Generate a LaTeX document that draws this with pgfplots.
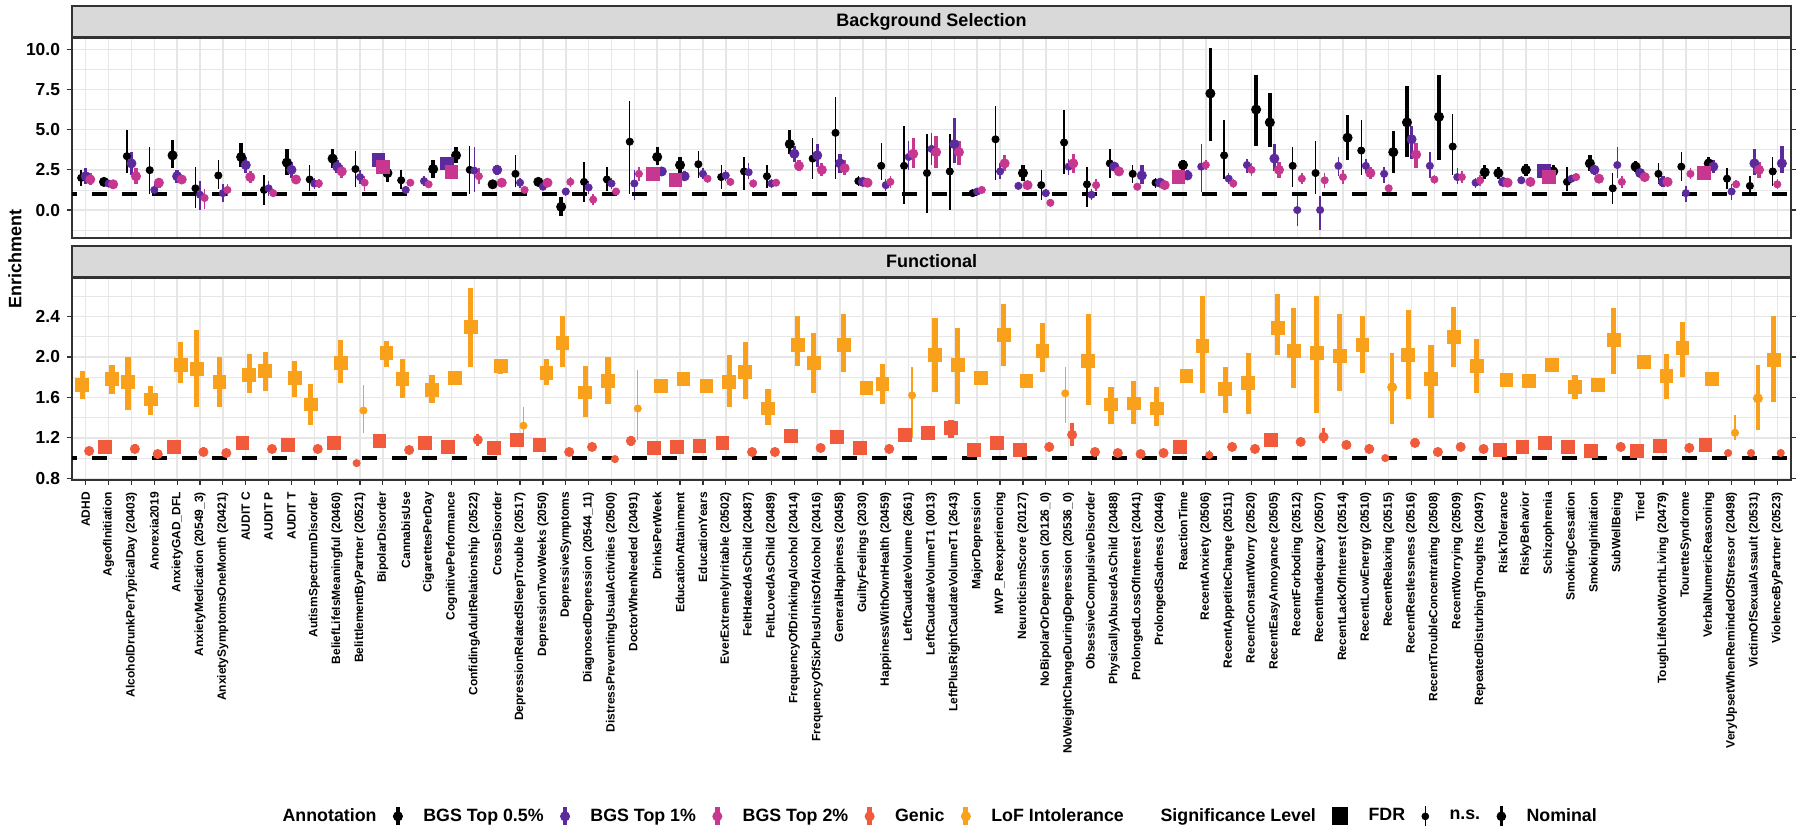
\documentclass[border=0pt]{standalone}
\usepackage{pgfplots}
\pgfplotsset{compat=1.18}
\usepackage{pgfplotstable}
\usepackage{fontspec}
\setmainfont{Liberation Sans}
\definecolor{cB}{HTML}{000000}
\definecolor{cP}{HTML}{5C2A9D}
\definecolor{cK}{HTML}{C7378F}
\definecolor{cG}{HTML}{F15A3B}
\definecolor{cL}{HTML}{F9A11B}
\definecolor{gridc}{HTML}{E6E6E6}
\definecolor{stripc}{HTML}{D9D9D9}
\definecolor{framec}{HTML}{333333}

% top panel: BGS Top 0.5% (black)
\pgfplotstableread{
x y lo hi s
0.8 2.0 1.5 2.5 0
1.8 1.75 1.5 2.0 1
2.8 3.35 2.3 5.0 0
3.8 2.48 1.0 3.9 0
4.8 3.4 2.6 4.35 1
5.8 1.35 0.1 2.7 0
6.8 2.15 1.3 3.1 0
7.8 3.3 2.7 4.2 1
8.8 1.25 0.3 2.2 0
9.8 2.95 2.2 3.8 1
10.8 1.9 1.2 2.8 0
11.8 3.2 2.6 3.8 1
12.8 2.55 1.45 3.7 0
14.2 2.3 1.75 2.9 1
14.8 1.85 1.3 2.5 0
16.2 2.55 2.0 3.1 1
17.2 3.4 2.9 3.9 1
17.8 2.5 1.0 4.0 0
18.8 1.6 1.35 1.85 1
19.8 2.25 1.45 3.4 0
20.8 1.75 1.5 2.0 1
21.8 0.2 -0.4 0.8 1
22.8 1.75 0.5 3.0 0
23.8 1.9 1.2 2.7 0
24.8 4.25 1.0 6.8 0
26.0 3.3 2.8 3.9 1
27.0 2.8 2.3 3.3 1
27.8 2.85 2.0 3.7 0
28.8 2.05 1.3 2.8 0
29.8 2.4 1.25 3.3 0
30.8 2.1 1.4 2.8 0
31.8 4.1 3.5 4.95 1
32.8 3.2 1.9 4.5 0
33.8 4.8 1.9 7.0 0
34.8 1.8 1.5 2.1 0
35.8 2.75 1.85 4.2 0
36.8 2.75 0.4 5.2 0
37.8 2.3 -0.2 4.75 0
38.8 2.4 0.0 4.75 0
39.8 1.05 0.9 1.2 0
40.8 4.4 1.85 6.5 0
42.0 2.3 1.8 2.8 1
42.8 1.55 0.6 2.5 0
43.8 4.2 2.25 6.2 0
44.8 1.6 0.2 2.7 0
45.8 2.9 2.0 3.8 0
46.8 2.25 1.7 2.8 0
47.8 1.7 1.4 2.0 0
49.0 2.8 2.4 3.1 1
50.2 7.25 4.3 10.1 1
50.8 3.4 1.9 5.6 0
52.2 6.25 4.0 8.4 1
52.8 5.45 3.9 7.3 1
53.8 2.75 1.45 3.9 0
54.8 2.3 1.0 4.3 0
56.2 4.5 3.1 5.9 1
56.8 3.7 2.2 5.6 0
58.2 3.6 2.3 4.9 1
58.8 5.45 3.3 7.7 1
60.2 5.8 3.1 8.4 1
60.8 3.95 2.2 6.0 0
62.2 2.35 1.9 2.8 1
62.8 2.3 1.9 2.7 1
64.0 2.5 2.1 2.85 1
65.2 2.4 2.0 2.8 1
65.8 1.75 1.2 2.7 0
66.8 2.9 2.4 3.4 1
67.8 1.35 0.4 2.3 0
68.8 2.7 2.35 3.05 1
69.8 2.25 1.6 2.9 0
70.8 2.7 1.8 3.6 0
72.0 2.9 2.5 3.3 1
72.8 1.95 1.3 2.6 0
73.8 1.5 0.9 2.1 0
74.8 2.4 1.5 3.3 0
}\tB

% BGS Top 1% (purple)
\pgfplotstableread{
x y lo hi s
1.0 2.1 1.6 2.6 1
2.0 1.65 1.45 1.85 0
3.0 2.9 2.2 3.6 1
4.0 1.25 0.9 1.6 0
5.0 2.1 1.7 2.5 1
6.0 0.95 0.0 1.8 0
7.0 1.05 0.5 1.6 0
8.0 2.8 2.3 3.3 1
9.0 1.35 0.9 1.8 0
10.0 2.5 2.0 3.0 1
11.0 1.65 1.3 2.0 0
12.0 2.7 2.3 3.1 1
13.0 2.05 1.6 2.5 0
13.8 3.1 2.8 3.4 2
15.0 1.25 1.0 1.5 0
15.8 1.8 1.5 2.1 0
16.8 2.9 2.6 3.2 2
18.0 2.45 1.1 3.9 0
19.0 2.5 2.2 2.8 1
20.0 1.7 1.4 2.0 0
21.0 1.45 1.25 1.65 0
22.0 1.15 0.9 1.4 0
23.0 1.4 1.0 1.8 0
24.0 1.65 1.3 2.0 0
25.0 1.65 0.6 2.5 0
26.2 2.4 2.1 2.7 1
27.2 2.1 1.8 2.4 1
28.0 2.25 1.9 2.6 0
29.0 2.15 1.8 2.5 0
30.0 2.35 1.9 2.9 0
31.0 1.65 1.4 1.9 0
32.0 3.5 3.0 4.0 1
33.0 3.4 2.7 4.1 1
34.0 2.9 2.3 3.5 1
35.0 1.75 1.55 1.95 1
36.0 1.55 1.2 1.9 0
37.0 3.3 2.5 4.3 0
38.0 3.8 2.8 4.8 0
39.0 4.1 2.9 5.7 1
40.0 1.15 1.0 1.3 0
41.0 2.4 1.9 2.9 0
41.8 1.5 1.3 1.7 0
43.0 1.05 0.8 1.3 0
44.0 2.7 2.2 3.2 0
45.0 0.95 0.6 1.3 0
46.0 2.7 2.4 3.0 1
47.2 2.15 1.6 2.8 1
48.0 1.7 1.5 1.9 1
49.2 2.15 1.9 2.5 1
49.8 2.7 1.15 4.1 0
51.0 1.95 1.6 2.3 0
51.8 2.8 2.3 3.2 0
53.0 3.2 2.4 4.1 1
54.0 0.0 -1.0 1.0 0
55.0 0.0 -1.25 0.9 0
55.8 2.75 2.1 3.3 0
57.0 2.75 2.3 3.2 0
57.8 2.25 1.7 2.7 0
59.0 4.4 3.2 5.2 1
59.8 2.75 2.0 3.6 0
61.0 2.05 1.6 2.6 0
61.8 1.7 1.4 2.0 0
63.0 1.75 1.5 2.0 1
63.8 1.85 1.6 2.1 0
64.8 2.45 2.2 2.7 2
66.0 1.95 1.7 2.2 0
67.0 2.5 2.2 2.8 1
68.0 2.8 2.0 3.9 0
69.0 2.3 2.05 2.55 1
70.0 1.75 1.45 2.1 1
71.0 1.05 0.5 1.5 0
72.2 2.7 2.3 3.1 1
73.0 1.15 0.6 1.6 0
74.0 2.9 2.2 3.8 1
75.2 2.9 2.3 4.0 1
}\tP

% BGS Top 2% (pink)
\pgfplotstableread{
x y lo hi s
1.2 1.9 1.55 2.3 1
2.2 1.6 1.45 1.75 1
3.2 2.1 1.6 2.6 1
4.2 1.7 1.4 2.0 1
5.2 1.9 1.6 2.2 1
6.2 0.75 0.05 1.3 0
7.2 1.25 0.9 1.6 0
8.2 2.05 1.7 2.4 1
9.2 1.05 0.8 1.3 0
10.2 1.9 1.6 2.2 1
11.2 1.65 1.4 1.9 0
12.2 2.4 2.0 2.8 1
13.2 1.7 1.2 2.1 0
14.0 2.7 2.45 2.95 2
15.2 1.7 1.5 1.9 0
16.0 1.6 1.4 1.8 0
17.0 2.35 2.1 2.6 2
18.2 2.1 1.6 2.6 0
19.2 1.7 1.5 1.9 1
20.2 1.25 1.0 1.5 0
21.2 1.7 1.45 1.95 1
22.2 1.75 1.45 2.05 0
23.2 0.65 0.3 1.0 0
24.2 1.15 0.9 1.4 0
25.2 2.25 1.8 2.7 0
25.8 2.25 1.95 2.55 2
26.8 1.85 1.6 2.1 2
28.2 1.95 1.7 2.2 0
29.2 1.75 1.5 2.0 0
30.2 1.65 1.4 1.9 0
31.2 1.7 1.5 1.9 0
32.2 2.75 2.4 3.1 1
33.2 2.5 2.1 2.9 1
34.2 2.6 2.2 3.1 1
35.2 1.7 1.5 1.9 1
36.2 1.75 1.4 2.1 0
37.2 3.5 2.6 4.5 1
38.2 3.6 2.6 4.6 1
39.2 3.6 2.8 4.3 1
40.2 1.25 1.1 1.4 0
41.2 2.9 2.4 3.4 1
42.2 1.55 1.4 1.7 1
43.2 0.45 0.2 0.7 0
44.2 2.9 2.3 3.5 1
45.2 1.55 1.2 1.9 0
46.2 2.4 2.15 2.65 1
47.0 1.45 1.2 1.7 0
48.2 1.55 1.35 1.75 1
48.8 2.05 1.8 2.3 2
50.0 2.8 2.5 3.1 0
51.2 1.65 1.4 1.9 0
52.0 2.5 2.1 2.9 0
53.2 2.5 2.0 3.0 1
54.2 1.95 1.6 2.3 0
55.2 1.85 1.4 2.3 0
56.0 2.05 1.6 2.5 0
57.2 2.3 1.9 2.7 1
58.0 1.35 1.1 1.6 0
59.2 3.45 2.6 4.2 1
60.0 1.9 1.6 2.2 0
61.2 2.05 1.7 2.4 0
62.0 1.85 1.5 2.2 0
63.2 1.7 1.5 1.9 1
64.2 1.75 1.55 1.95 1
65.0 2.05 1.85 2.25 2
66.2 2.05 1.8 2.3 0
67.2 1.95 1.75 2.15 1
68.2 1.75 1.4 2.1 0
69.2 2.05 1.8 2.3 1
70.2 1.75 1.5 2.0 1
71.2 2.25 1.9 2.6 0
71.8 2.3 2.05 2.55 2
73.2 1.6 1.35 1.85 0
74.2 2.5 2.0 3.0 1
75.0 1.6 1.3 1.9 0
}\tK

% bottom panel: Genic
\pgfplotstableread{
x y lo hi s
1.15 1.07 1.04 1.11 1
1.85 1.11 1.05 1.18 2
3.15 1.09 1.05 1.14 1
4.15 1.04 1.01 1.07 1
4.85 1.11 1.05 1.18 2
6.15 1.06 1.02 1.11 1
7.15 1.05 1.01 1.08 1
7.85 1.15 1.09 1.21 2
9.15 1.09 1.05 1.13 1
9.85 1.13 1.07 1.19 2
11.15 1.09 1.05 1.13 1
11.85 1.15 1.10 1.20 2
12.85 0.95 0.92 0.99 0
13.85 1.17 1.12 1.22 2
15.15 1.08 1.05 1.11 1
15.85 1.15 1.09 1.20 2
16.85 1.11 1.06 1.16 2
18.15 1.18 1.12 1.24 1
18.85 1.10 1.05 1.16 2
19.85 1.18 1.12 1.23 2
20.85 1.13 1.08 1.18 2
22.15 1.06 1.03 1.09 1
23.15 1.11 1.07 1.14 1
24.15 0.99 0.96 1.02 0
24.85 1.17 1.12 1.22 1
25.85 1.10 1.04 1.16 2
26.85 1.11 1.05 1.17 2
27.85 1.12 1.06 1.18 2
28.85 1.15 1.09 1.21 2
30.15 1.06 1.03 1.09 1
31.15 1.06 1.03 1.09 1
31.85 1.22 1.15 1.29 2
33.15 1.10 1.06 1.14 1
33.85 1.21 1.15 1.27 2
34.85 1.10 1.04 1.16 2
36.15 1.09 1.06 1.12 1
36.85 1.23 1.17 1.30 2
37.85 1.25 1.18 1.31 2
38.85 1.30 1.20 1.38 2
39.85 1.08 1.03 1.13 2
40.85 1.15 1.09 1.21 2
41.85 1.08 1.03 1.13 2
43.15 1.11 1.07 1.15 1
44.15 1.23 1.12 1.35 1
45.15 1.06 1.03 1.09 1
46.15 1.05 1.02 1.08 1
47.15 1.04 1.01 1.07 1
48.15 1.05 1.02 1.08 1
48.85 1.11 1.05 1.17 2
50.15 1.03 0.98 1.08 0
51.15 1.11 1.07 1.15 1
52.15 1.09 1.06 1.13 1
52.85 1.18 1.12 1.24 2
54.15 1.16 1.12 1.20 1
55.15 1.21 1.15 1.30 1
56.15 1.13 1.10 1.17 1
57.15 1.09 1.06 1.12 1
57.85 1.00 0.97 1.04 0
59.15 1.15 1.11 1.20 1
60.15 1.06 1.02 1.10 1
61.15 1.11 1.08 1.14 1
62.15 1.09 1.06 1.12 1
62.85 1.08 1.02 1.14 2
63.85 1.11 1.05 1.17 2
64.85 1.15 1.09 1.21 2
65.85 1.11 1.05 1.17 2
66.85 1.07 1.01 1.13 2
68.15 1.11 1.08 1.14 1
68.85 1.07 1.01 1.13 2
69.85 1.12 1.06 1.18 2
71.15 1.10 1.07 1.13 1
71.85 1.13 1.07 1.19 2
72.85 1.05 1.02 1.08 0
73.85 1.05 1.02 1.08 0
75.15 1.05 1.02 1.09 0
}\tG

% LoF Intolerance
\pgfplotstableread{
x y lo hi s
0.85 1.72 1.58 1.86 2
2.15 1.78 1.63 1.92 2
2.85 1.75 1.48 2.00 2
3.85 1.58 1.43 1.71 2
5.15 1.92 1.74 2.15 2
5.85 1.88 1.50 2.27 2
6.85 1.75 1.50 2.00 2
8.15 1.82 1.64 2.03 2
8.85 1.86 1.66 2.05 2
10.15 1.79 1.60 1.96 2
10.85 1.53 1.33 1.73 2
12.15 1.94 1.74 2.17 2
13.15 1.47 1.25 1.72 0
14.15 2.04 1.90 2.16 2
14.85 1.78 1.59 1.98 2
16.15 1.67 1.54 1.82 2
17.15 1.79 1.72 1.86 2
17.85 2.30 1.90 2.68 2
19.15 1.91 1.83 1.98 2
20.15 1.32 1.20 1.50 0
21.15 1.84 1.72 1.98 2
21.85 2.14 1.90 2.40 2
22.85 1.65 1.41 1.91 2
23.85 1.76 1.53 2.00 2
25.15 1.49 1.18 1.87 0
26.15 1.71 1.64 1.78 2
27.15 1.78 1.71 1.85 2
28.15 1.71 1.64 1.78 2
29.15 1.75 1.50 2.02 2
29.85 1.85 1.58 2.15 2
30.85 1.49 1.33 1.68 2
32.15 2.12 1.91 2.40 2
32.85 1.94 1.64 2.24 2
34.15 2.12 1.85 2.42 2
35.15 1.69 1.62 1.76 2
35.85 1.73 1.53 1.93 2
37.15 1.62 1.20 1.90 0
38.15 2.02 1.65 2.38 2
39.15 1.92 1.53 2.29 2
40.15 1.79 1.72 1.86 2
41.15 2.22 1.91 2.52 2
42.15 1.76 1.69 1.83 2
42.85 2.06 1.85 2.34 2
43.85 1.64 1.35 1.90 0
44.85 1.96 1.52 2.42 2
45.85 1.53 1.34 1.70 2
46.85 1.54 1.34 1.76 2
47.85 1.49 1.32 1.70 2
49.15 1.81 1.74 1.88 2
49.85 2.11 1.64 2.60 2
50.85 1.68 1.45 1.90 2
51.85 1.74 1.44 2.04 2
53.15 2.29 2.02 2.62 2
53.85 2.06 1.69 2.48 2
54.85 2.04 1.45 2.60 2
55.85 2.01 1.66 2.42 2
56.85 2.12 1.84 2.40 2
58.15 1.70 1.34 2.04 1
58.85 2.02 1.58 2.46 2
59.85 1.78 1.40 2.12 2
60.85 2.20 1.90 2.49 2
61.85 1.91 1.64 2.18 2
63.15 1.77 1.70 1.84 2
64.15 1.76 1.69 1.83 2
65.15 1.92 1.85 1.99 2
66.15 1.70 1.58 1.82 2
67.15 1.72 1.65 1.79 2
67.85 2.17 1.83 2.48 2
69.15 1.95 1.88 2.02 2
70.15 1.81 1.58 2.03 2
70.85 2.09 1.80 2.35 2
72.15 1.78 1.71 1.85 2
73.15 1.25 1.18 1.43 0
74.15 1.59 1.28 1.92 1
74.85 1.97 1.55 2.40 2
}\tL

\newcommand{\sigplot}[5]{%
  \addplot[#1, forget plot, only marks, #4,
    restrict expr to domain={\thisrow{s}}{#3},
    error bars/.cd, y dir=both, y explicit, error mark=none,
    error bar style={line width=#5, solid}]
  table[x=x, y=y, y error plus expr=\thisrow{hi}-\thisrow{y},
        y error minus expr=\thisrow{y}-\thisrow{lo}] {#2};
}
\newcommand{\allsig}[2]{%
  \sigplot{#1}{#2}{-0.5:0.5}{mark=*, mark size=1.8pt, mark options={draw=none}}{0.7pt}
  \sigplot{#1}{#2}{0.5:1.5}{mark=*, mark size=2.3pt, mark options={draw=none}}{1.7pt}
  \sigplot{#1}{#2}{1.5:2.5}{mark=square*, mark size=3.2pt, mark options={draw=none}}{2.6pt}
}

\pgfplotsset{
  panel/.style={
    scale only axis, width=859.5pt,
    xmin=0.4, xmax=75.6,
    axis line style={framec, line width=1pt},
    xmajorgrids, ymajorgrids, yminorgrids,
    major grid style={gridc, line width=0.75pt},
    minor grid style={gridc, line width=0.4pt},
    xtick={1,...,75},
    tick align=outside,
    major tick length=2.5pt, minor tick length=0pt,
    tick style={framec, line width=0.6pt},
    yticklabel style={font=\bfseries\fontsize{8.7}{10}\selectfont, text=black,
      /pgf/number format/.cd, fixed, fixed zerofill, precision=1, assume math mode=true},
    every axis title shift=0pt,
    title style={at={(0.5,1)}, anchor=south, yshift=0pt, draw=framec, line width=1pt,
      fill=stripc, minimum width=859.5pt, minimum height=15.5pt, inner sep=0pt,
      font=\bfseries\fontsize{9}{10.8}\selectfont},
  },
  annkey/.style={legend image code/.code={
      \draw[line width=2.4pt] (0pt,-4.5pt) -- (0pt,4.5pt);
      \fill (0pt,0pt) circle (2.3pt);}},
  nomkey/.style={legend image code/.code={
      \draw[line width=1.4pt] (0pt,-5pt) -- (0pt,5pt);
      \fill (0pt,0pt) circle (2.2pt);}},
  nokey/.style={legend image code/.code={}},
}

\begin{document}
\begin{tikzpicture}
\useasboundingbox (-36pt,19pt) rectangle (864pt,-397pt);

\begin{axis}[panel, at={(0pt,0pt)}, anchor=north west, height=100pt,
  ymin=-1.74, ymax=10.7,
  ytick={0,2.5,5,7.5,10}, minor ytick={-1.25,1.25,3.75,6.25,8.75},
  xticklabels={}, xmajorticks=false,
  title={Background Selection}]
\allsig{cB}{\tB}
\allsig{cP}{\tP}
\allsig{cK}{\tK}
\addplot[black, line width=1.6pt, dash pattern=on 7.5pt off 7.5pt, dash phase=5pt, forget plot] coordinates {(0.4,1) (75.6,1)};
\end{axis}

\begin{axis}[panel, at={(0pt,-120pt)}, anchor=north west, height=101pt,
  ymin=0.783, ymax=2.78,
  ytick={0.8,1.2,1.6,2.0,2.4}, minor ytick={1.0,1.4,1.8,2.2,2.6},
  title={Functional},
  xticklabels={ADHD, AgeofInitiation, AlcoholDrunkPerTypicalDay (20403), Anorexia2019, AnxietyGAD\_DFL, AnxietyMedication (20549\_3), AnxietySymptomsOneMonth (20421), AUDIT C, AUDIT P, AUDIT T, AutismSpectrumDisorder, BeliefLifeIsMeaningful (20460), BelittlementByPartner (20521), BipolarDisorder, CannabisUse, CigarettesPerDay, CognitivePerformance, ConfidingAdultRelationship (20522), CrossDisorder, DepressionRelatedSleepTrouble (20517), DepressionTwoWeeks (2050), DepressiveSymptoms, DiagnosedDepression (20544\_11), DistressPreventingUsualActivities (20500), DoctorWhenNeeded (20491), DrinksPerWeek, EducationAttainment, EducationYears, EverExtremelyIrritable (20502), FeltHatedAsChild (20487), FeltLovedAsChild (20489), FrequencyOfDrinkingAlcohol (20414), FrequencyOfSixPlusUnitsOfAlcohol (20416), GeneralHappiness (20458), GuiltyFeelings (2030), HappinessWithOwnHealth (20459), LeftCaudateVolume (2661), LeftCaudateVolumeT1 (0013), LeftPlusRightCaudateVolumeT1 (2643), MajorDepression, MVP\_Reexperiencing, NeuroticismScore (20127), NoBipolarOrDepression (20126\_0), NoWeightChangeDuringDepression (20536\_0), ObsessiveCompulsiveDisorder, PhysicallyAbusedAsChild (20488), ProlongedLossOfInterest (20441), ProlongedSadness (20446), ReactionTime, RecentAnxiety (20506), RecentAppetiteChange (20511), RecentConstantWorry (20520), RecentEasyAnnoyance (20505), RecentForboding (20512), RecentInadequacy (20507), RecentLackOfInterest (20514), RecentLowEnergy (20510), RecentRelaxing (20515), RecentRestlessness (20516), RecentTroubleConcentrating (20508), RecentWorrying (20509), RepeatedDisturbingThoughts (20497), RiskTolerance, RiskyBehavior, Schizophrenia, SmokingCessation, SmokingInitiation, SubWellBeing, Tired, ToughLifeNotWorthLiving (20479), TouretteSyndrome, VerbalNumericReasoning, VeryUpsetWhenRemindedOfStressor (20498), VictimOfSexualAssault (20531), ViolenceByPartner (20523)},
  xticklabel style={rotate=90, anchor=east, font=\bfseries\fontsize{6}{7}\selectfont, text=black},
  legend columns=-1, legend cell align=left,
  legend style={at={(0.5,-1.665)}, anchor=center, draw=none, fill=none,
    font=\bfseries\fontsize{8.9}{10.5}\selectfont,
    /tikz/every odd column/.append style={column sep=8.2pt},
    /tikz/every even column/.append style={column sep=6.2pt}},
]
\allsig{cG}{\tG}
\allsig{cL}{\tL}
\addplot[black, line width=1.6pt, dash pattern=on 7.5pt off 7.5pt, dash phase=5pt, forget plot] coordinates {(0.4,1) (75.6,1)};
\addlegendimage{nokey}\addlegendentry{Annotation}
\addlegendimage{cB, annkey}\addlegendentry{BGS Top 0.5\%}
\addlegendimage{cP, annkey}\addlegendentry{BGS Top 1\%}
\addlegendimage{cK, annkey}\addlegendentry{BGS Top 2\%}
\addlegendimage{cG, annkey}\addlegendentry{Genic}
\addlegendimage{cL, annkey}\addlegendentry{LoF Intolerance}
\addlegendimage{nokey}\addlegendentry{Significance Level}
\addlegendimage{black, legend image code/.code={\fill (-3.75pt,-4.25pt) rectangle (3.75pt,4.25pt);}}\addlegendentry{FDR}
\addlegendimage{black, legend image code/.code={\draw[line width=0.6pt] (0pt,-5pt) -- (0pt,5pt); \fill (0pt,0pt) circle (1.7pt);}}\addlegendentry{n.s.}
\addlegendimage{black, nomkey}\addlegendentry{Nominal}
\end{axis}

\node[rotate=90, font=\bfseries\fontsize{9}{10.8}\selectfont] at (-28.5pt,-110.5pt) {Enrichment};
\end{tikzpicture}
\end{document}
